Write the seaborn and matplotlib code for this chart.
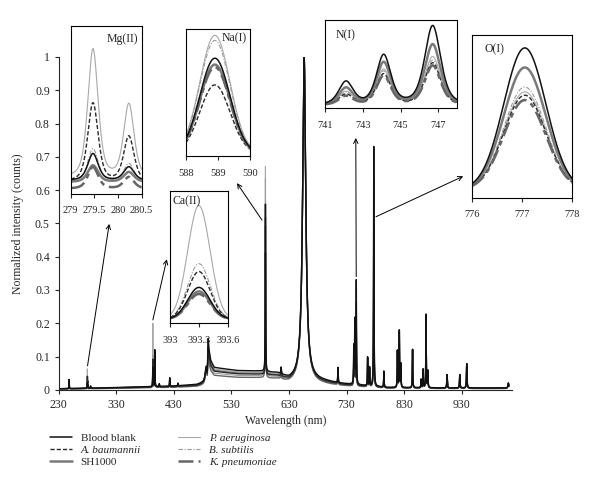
import numpy as np
import pandas as pd
import matplotlib
matplotlib.use('agg')
import matplotlib.pyplot as plt
import seaborn as sns

sns.set_style('ticks')
plt.rcParams['font.family'] = ['Liberation Serif', 'DejaVu Serif']
plt.rcParams['font.size'] = 8

# series, in legend order
names = ['Blood blank', 'A. baumannii', 'SH1000', 'P. aeruginosa', 'B. subtilis', 'K. pneumoniae']
italic = [False, True, False, True, True, True]
colors = ['#111111', '#2a2a2a', '#7a7a7a', '#a8a8a8', '#9c9c9c', '#666666']
styles = ['-', (0, (3, 1.5)), '-', '-', (0, (4, 1.5, 1, 1.5)), (0, (6, 2, 2, 2))]
widths = [1.1, 1.0, 1.8, 0.8, 0.8, 1.8]

# continuum of the full spectrum (nm, normalized intensity)
cont_wl = [230, 300, 380, 430, 470, 482, 488, 489.5, 491, 494, 500, 540, 580, 610, 630, 660, 690, 720, 760, 800, 900, 1012]
cont_lvl = [0.003, 0.005, 0.008, 0.010, 0.014, 0.020, 0.030, 0.125, 0.100, 0.075, 0.058, 0.050, 0.048, 0.042, 0.026, 0.026, 0.022, 0.016, 0.011, 0.006, 0.005, 0.005]
cont_scale = [1.15, 0.95, 1.0, 1.07, 0.85, 0.74]

# lines common to all samples: centre, height, half width
line_wl = [247.9, 285.2, 396.8, 404.6, 422.7, 437.0, 486.1, 616.2, 656.3, 715.0, 766.5, 769.9, 794.8,
           818.3, 821.6, 824.2, 844.6, 859.4, 862.9, 868.0, 871.2, 904.5, 926.6, 938.7, 1011.0]
line_h = [0.027, 0.006, 0.11, 0.008, 0.025, 0.008, 0.040, 0.02, 0.97, 0.045, 0.085, 0.055, 0.048,
          0.11, 0.17, 0.07, 0.115, 0.025, 0.055, 0.22, 0.05, 0.04, 0.04, 0.073, 0.015]
line_w = [0.25, 0.3, 0.3, 0.4, 0.3, 0.4, 2.0, 0.6, 3.2, 0.4, 0.35, 0.35, 0.4,
          0.4, 0.4, 0.4, 0.4, 0.4, 0.4, 0.4, 0.4, 0.5, 0.5, 0.5, 0.8]

# inset peak heights (fraction of inset box), one value per series
mg_p1 = [0.24, 0.54, 0.17, 0.86, 0.27, 0.16]
mg_p2 = [0.16, 0.34, 0.13, 0.53, 0.18, 0.10]
mg_base = [0.08, 0.07, 0.07, 0.09, 0.07, 0.03]
na_p = [0.77, 0.56, 0.72, 0.95, 0.91, 0.70]
ca_p = [0.27, 0.39, 0.24, 0.89, 0.45, 0.22]
n_p1 = [0.32, 0.18, 0.25, 0.21, 0.20, 0.16]
n_p2 = [0.63, 0.42, 0.55, 0.47, 0.45, 0.40]
n_p3 = [0.97, 0.55, 0.76, 0.62, 0.58, 0.52]
o_p = [0.92, 0.63, 0.80, 0.65, 0.68, 0.60]

# element lines in the full spectrum: centre, tallest height, half width, inset heights
elem_lines = [
    (279.55, 0.055, 0.25, mg_p1),
    (280.27, 0.030, 0.25, mg_p2),
    (393.4, 0.19, 0.3, ca_p),
    (589.0, 0.62, 0.35, na_p),
    (742.4, 0.11, 0.4, n_p1),
    (744.2, 0.19, 0.4, n_p2),
    (746.8, 0.31, 0.4, n_p3),
    (777.2, 0.72, 0.4, o_p),
]


def lorentz(x, c, h, w):
    return h / (1 + ((x - c) / w) ** 2)


def gauss(x, c, h, s):
    return h * np.exp(-(x - c) ** 2 / (2 * s ** 2))


def voigt(x, c, h, w, eta=0.5):
    # pseudo-Voigt with half width w
    return eta * lorentz(x, c, h, w) + (1 - eta) * gauss(x, c, h, w / 1.1774)


wl = np.arange(230, 1012, 0.05)
frames = []
for i, n in enumerate(names):
    y = np.interp(wl, cont_wl, cont_lvl) * cont_scale[i]
    for c, h, w in zip(line_wl, line_h, line_w):
        y = y + lorentz(wl, c, h, w)
    for c, hmax, w, frac in elem_lines:
        y = y + lorentz(wl, c, hmax * frac[i] / max(frac), w)
    frames.append(pd.DataFrame({'wl': wl, 'intensity': y, 'series': n}))
spec = pd.concat(frames)

fig = plt.figure(figsize=(6, 4.91), dpi=100)
ax = fig.add_axes([0.098, 0.206, 0.755, 0.678])

for i in [3, 4, 2, 5, 1, 0]:
    sns.lineplot(data=spec[spec.series == names[i]], x='wl', y='intensity', ax=ax, estimator=None,
                 color=colors[i], lw=min(widths[i], 1.0), linestyle='-')
ax.set_xlim(230, 1017)
ax.set_ylim(0, 1.0)
ax.set_xticks([230, 330, 430, 530, 630, 730, 830, 930])
ax.set_yticks(np.arange(0, 1.01, 0.1))
ax.set_yticklabels(['0', '0.1', '0.2', '0.3', '0.4', '0.5', '0.6', '0.7', '0.8', '0.9', '1'])
ax.tick_params(direction='out', length=3, width=0.8, labelsize=8.5)
ax.set_xlabel('Wavelength (nm)', fontsize=8.5, labelpad=3)
ax.set_ylabel('Normalized intensity (counts)', fontsize=8.5, labelpad=8)
sns.despine(ax=ax)
for s in ['left', 'bottom']:
    ax.spines[s].set_linewidth(0.8)


def draw_inset(rect, xlim, ticks, ticklabels, title, title_xy, curves):
    a = fig.add_axes(rect)
    x = np.linspace(xlim[0], xlim[1], 400)
    for i in [3, 4, 1, 2, 5, 0]:
        a.plot(x, curves(x, i), color=colors[i], lw=widths[i], linestyle=styles[i])
    a.set_xlim(xlim)
    a.set_ylim(0, 1)
    a.set_yticks([])
    a.set_xticks(ticks)
    a.set_xticklabels(ticklabels)
    a.tick_params(axis='x', direction='out', length=3, width=0.8, labelsize=7.5, pad=6)
    for s in a.spines.values():
        s.set_linewidth(0.8)
        s.set_color('black')
    a.text(title_xy[0], title_xy[1], title, transform=a.transAxes, fontsize=8.5, va='top')
    return a


draw_inset([0.118, 0.605, 0.118, 0.342], (279, 280.5), [279, 279.5, 280, 280.5],
           ['279', '279.5', '280', '280.5'], 'Mg(II)', (0.5, 0.96),
           lambda x, i: mg_base[i] + voigt(x, 279.47, mg_p1[i] - mg_base[i], 0.13)
           + voigt(x, 280.23, mg_p2[i] - mg_base[i], 0.13))
draw_inset([0.310, 0.682, 0.107, 0.259], (588, 590), [588, 589, 590],
           ['588', '589', '590'], 'Na(I)', (0.56, 0.97),
           lambda x, i: 0.02 + gauss(x, 588.9, na_p[i] - 0.02, 0.47))
draw_inset([0.283, 0.342, 0.097, 0.269], (393, 393.6), [393, 393.3, 393.6],
           ['393', '393.3', '393.6'], 'Ca(II)', (0.04, 0.97),
           lambda x, i: 0.03 + gauss(x, 393.3, ca_p[i] - 0.03, 0.115))
draw_inset([0.542, 0.780, 0.220, 0.179], (741, 748), [741, 743, 745, 747],
           ['741', '743', '745', '747'], 'N(I)', (0.08, 0.9),
           lambda x, i: 0.03 + voigt(x, 742.1, n_p1[i] - 0.06, 0.45)
           + voigt(x, 744.1, n_p2[i] - 0.07, 0.45) + voigt(x, 746.7, n_p3[i] - 0.07, 0.5))
draw_inset([0.787, 0.597, 0.167, 0.332], (776, 778), [776, 777, 778],
           ['776', '777', '778'], 'O(I)', (0.12, 0.95),
           lambda x, i: 0.05 + gauss(x, 777.05, o_p[i] - 0.05, 0.42))

# arrows from the spectrum lines to the insets
arrow = dict(arrowstyle='->', color='black', lw=0.7, shrinkA=0, shrinkB=0)
arrow_tail = [(279.9, 0.072), (393.4, 0.21), (583.0, 0.51), (746.7, 0.34), (781.0, 0.52)]
arrow_head = [(0.182, 0.544), (0.278, 0.472), (0.395, 0.627), (0.593, 0.719), (0.772, 0.641)]
for t, h in zip(arrow_tail, arrow_head):
    ax.annotate('', xy=h, xycoords='figure fraction', xytext=t, textcoords='data', arrowprops=arrow)

# legend
leg_handles = [plt.Line2D([], [], color=colors[i], lw=widths[i], linestyle=styles[i]) for i in range(6)]
leg = fig.legend(leg_handles, names, loc='upper left', bbox_to_anchor=(0.066, 0.139), ncol=2,
                 frameon=False, handlelength=2.0, columnspacing=3.3, labelspacing=0.2, fontsize=8)
for t, it in zip(leg.get_texts(), italic):
    t.set_fontstyle('italic' if it else 'normal')

fig.savefig('out.png', dpi=100)
